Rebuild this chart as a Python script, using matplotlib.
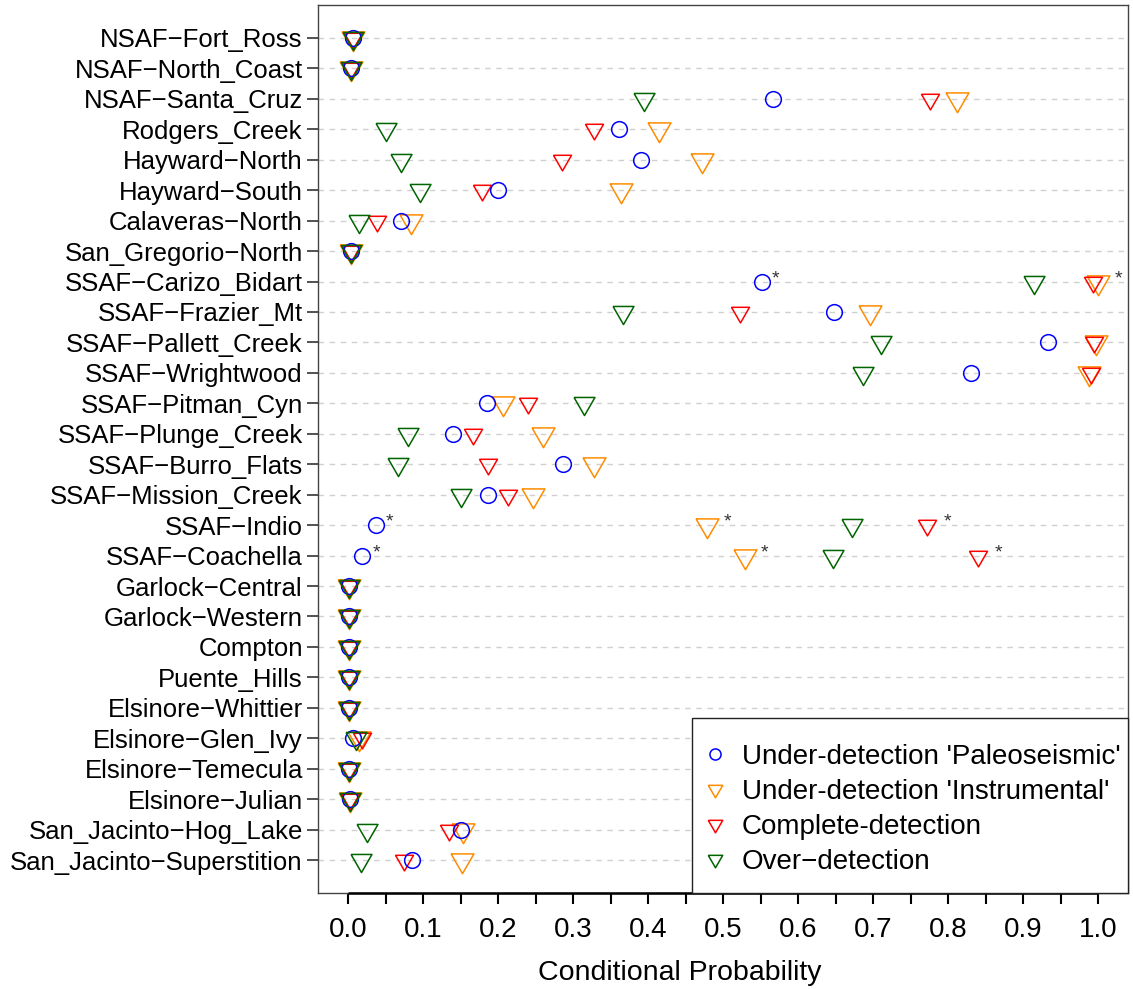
import matplotlib.pyplot as plt
from matplotlib.lines import Line2D
from matplotlib.patches import Rectangle
import numpy as np

plt.rcParams['font.family'] = ['Liberation Sans', 'DejaVu Sans']

faults = [
    'NSAF−Fort_Ross', 'NSAF−North_Coast', 'NSAF−Santa_Cruz', 'Rodgers_Creek',
    'Hayward−North', 'Hayward−South', 'Calaveras−North', 'San_Gregorio−North',
    'SSAF−Carizo_Bidart', 'SSAF−Frazier_Mt', 'SSAF−Pallett_Creek', 'SSAF−Wrightwood',
    'SSAF−Pitman_Cyn', 'SSAF−Plunge_Creek', 'SSAF−Burro_Flats', 'SSAF−Mission_Creek',
    'SSAF−Indio', 'SSAF−Coachella', 'Garlock−Central', 'Garlock−Western',
    'Compton', 'Puente_Hills', 'Elsinore−Whittier', 'Elsinore−Glen_Ivy',
    'Elsinore−Temecula', 'Elsinore−Julian', 'San_Jacinto−Hog_Lake',
    'San_Jacinto−Superstition',
]

# conditional probabilities per fault, one list per detection model
paleo = [0.006, 0.004, 0.566, 0.361, 0.391, 0.200, 0.071, 0.004,
         0.552, 0.648, 0.933, 0.830, 0.185, 0.140, 0.286, 0.186,
         0.037, 0.019, 0.001, 0.001, 0.001, 0.001, 0.001, 0.006,
         0.001, 0.003, 0.151, 0.085]
instrumental = [0.006, 0.004, 0.812, 0.415, 0.472, 0.364, 0.084, 0.004,
                1.000, 0.696, 0.997, 0.988, 0.206, 0.260, 0.328, 0.247,
                0.479, 0.529, 0.001, 0.001, 0.001, 0.001, 0.001, 0.015,
                0.001, 0.002, 0.153, 0.152]
complete = [0.006, 0.004, 0.776, 0.328, 0.285, 0.179, 0.038, 0.004,
            0.993, 0.523, 0.995, 0.991, 0.240, 0.167, 0.187, 0.213,
            0.772, 0.840, 0.001, 0.001, 0.001, 0.001, 0.001, 0.018,
            0.001, 0.002, 0.134, 0.074]
over = [0.006, 0.004, 0.394, 0.050, 0.071, 0.096, 0.014, 0.004,
        0.915, 0.366, 0.711, 0.687, 0.314, 0.080, 0.067, 0.150,
        0.672, 0.647, 0.001, 0.001, 0.001, 0.001, 0.001, 0.011,
        0.001, 0.002, 0.025, 0.017]

# values flagged with an asterisk
flag_paleo = ['SSAF−Carizo_Bidart', 'SSAF−Indio', 'SSAF−Coachella']
flag_instrumental = ['SSAF−Carizo_Bidart', 'SSAF−Indio', 'SSAF−Coachella']
flag_complete = ['SSAF−Indio', 'SSAF−Coachella']

# point-down equilateral triangle, centred on its centroid
tri = [(-1.0, 0.577), (1.0, 0.577), (0.0, -1.155), (-1.0, 0.577)]

n = len(faults)
ypos = np.arange(n)[::-1]

fig = plt.figure(figsize=(11.33, 9.89), dpi=100)
ax = fig.add_axes([0.2807, 0.0971, 0.9956 - 0.2807, 0.9949 - 0.0971])

for y in ypos:
    ax.axhline(y, color='#d0d0d0', lw=1.0, ls=(0, (4, 4)), zorder=0)

series = [
    (instrumental, 'darkorange', tri, 19.0),
    (complete, 'red', tri, 15.0),
    (paleo, 'blue', 'o', 11.3),
    (over, 'darkgreen', tri, 17.4),
]
for vals, col, mk, ms in series:
    ax.plot(vals, ypos, ls='none', marker=mk, ms=ms, mfc='none',
            mec=col, mew=1.1, zorder=3)

def star(vals, names, dx):
    for name in names:
        i = faults.index(name)
        ax.annotate('*', (vals[i], ypos[i]), xytext=(dx, 2),
                    textcoords='offset points', fontsize=14,
                    color='#333333', ha='center', va='center')

star(paleo, flag_paleo, 10)
star(instrumental, flag_instrumental, 14.5)
star(complete, flag_complete, 14.5)

ax.set_xlim(-0.04, 1.04)
ax.set_ylim(-1.08, n - 1 + 1.08)
ax.set_yticks(ypos)
ax.set_yticklabels(faults, fontsize=18.5)
xt = np.arange(0, 1.001, 0.05)
ax.set_xticks(xt)
ax.set_xticklabels(['%.1f' % v if i % 2 == 0 else '' for i, v in enumerate(xt)],
                   fontsize=20)
ax.tick_params(axis='x', direction='out', length=8, width=1.5, color='black', pad=9)
ax.tick_params(axis='y', direction='out', length=8, width=1.2, color='#333333', pad=3)
ax.set_xlabel('Conditional Probability', fontsize=20.5)
ax.xaxis.set_label_coords(0.447, -0.075)
for s in ax.spines.values():
    s.set_linewidth(1.0)
    s.set_color('#444444')

# axis line spanning the labelled range only
ax.plot([0, 1], [0, 0], color='black', lw=1.8, clip_on=False, zorder=5,
        transform=ax.get_xaxis_transform(), solid_capstyle='butt')

handles = [
    Line2D([], [], ls='none', marker='o', ms=8, mfc='none', mec='blue', mew=1.1),
    Line2D([], [], ls='none', marker=tri, ms=12, mfc='none', mec='darkorange', mew=1.1),
    Line2D([], [], ls='none', marker=tri, ms=12, mfc='none', mec='red', mew=1.1),
    Line2D([], [], ls='none', marker=tri, ms=12, mfc='none', mec='darkgreen', mew=1.1),
]
labels = ["Under-detection 'Paleoseismic'", "Under-detection 'Instrumental'",
          'Complete-detection', 'Over−detection']

# legend box in the lower right corner, entries placed inside it
box = Rectangle((0.4617, 0.0), 1 - 0.4617, 0.197, transform=ax.transAxes,
                facecolor='white', edgecolor='#222222', lw=1.0, zorder=6,
                clip_on=False)
ax.add_patch(box)
leg = ax.legend(handles, labels, loc='upper left', bbox_to_anchor=(0.480, 0.1678),
                borderaxespad=0, borderpad=0, fontsize=20, frameon=False,
                labelspacing=0.32, handlelength=0.6, handletextpad=0.66)
leg.set_zorder(7)

fig.savefig('out.png', dpi=100)
